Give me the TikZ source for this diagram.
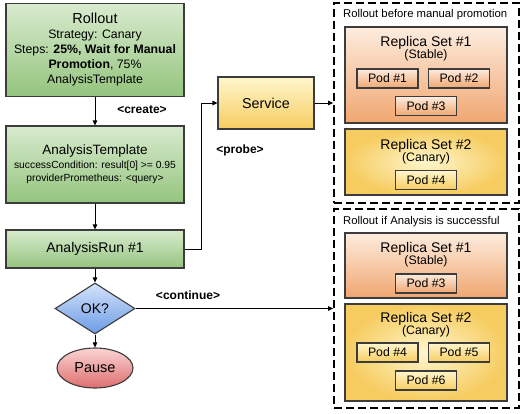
\documentclass[tikz,border=0pt]{standalone}
\usepackage{fontspec}
\setmainfont{Liberation Sans}
\usetikzlibrary{shapes.geometric,arrows.meta}
\definecolor{rodark}{RGB}{60,60,60}
\definecolor{greentop}{RGB}{216,235,206}
\definecolor{greenbot}{RGB}{148,196,126}
\definecolor{yeltop}{RGB}{255,246,205}
\definecolor{yelbot}{RGB}{246,204,96}
\definecolor{orgtop}{RGB}{253,236,222}
\definecolor{orgbot}{RGB}{240,166,112}
\definecolor{bluetop}{RGB}{212,226,250}
\definecolor{bluebot}{RGB}{108,156,230}
\definecolor{redtop}{RGB}{250,212,212}
\definecolor{redbot}{RGB}{222,110,110}
\newcommand{\ttl}{\fontsize{14}{16}\selectfont}
\newcommand{\txt}{\fontsize{12.3}{15}\selectfont}
\tikzset{
  greenbox/.style={draw=rodark,line width=1.1pt,top color=greentop,bottom color=greenbot,
    minimum width=178pt,inner sep=0pt,align=center},
  yelbox/.style={draw=rodark,line width=1.1pt,top color=yeltop,bottom color=yelbot,inner sep=0pt},
  yelset/.style={draw=rodark,line width=1.1pt,shading=radial,inner color=yeltop,outer color=yelbot,
    minimum width=162pt,inner sep=0pt},
  orgbox/.style={draw=rodark,line width=1.1pt,top color=orgtop,bottom color=orgbot,inner sep=0pt},
  podorg/.style={orgbox,minimum width=61pt,minimum height=19pt,font=\txt},
  podyel/.style={yelbox,minimum width=61pt,minimum height=19pt,font=\txt},
  settitle/.style={align=center,inner sep=0pt},
  group/.style={draw=black,line width=1.8pt,dash pattern=on 8pt off 4pt,inner sep=0pt,
    minimum width=185pt},
  grouptitle/.style={anchor=west,inner sep=0pt,font=\fontsize{11.3}{12}\selectfont},
  edgelabel/.style={inner sep=0pt,font=\fontsize{12}{14}\selectfont\bfseries},
  flow/.style={draw=black,line width=0.8pt,-{Triangle[length=5pt,width=4.5pt]}}
}

\begin{document}
\begin{tikzpicture}[x=1pt,y=-1pt]
  \useasboundingbox (0,0) rectangle (530,413);
  % left column
  \node[greenbox,minimum height=93pt,font=\txt] (roll) at (95,50)
    {{\fontsize{14.5}{16}\selectfont Rollout}\\ Strategy: Canary\\
     Steps: \textbf{25\%, Wait for Manual}\\ \textbf{Promotion}, 75\%\\ AnalysisTemplate};
  \node[greenbox,minimum height=77pt,font=\fontsize{10.3}{13.5}\selectfont] (tmpl) at (95,164.5)
    {{\fontsize{13.5}{16}\selectfont AnalysisTemplate}\\ successCondition: result[0] >= 0.95\\
     providerPrometheus: <query>};
  \node[greenbox,minimum height=38pt,font=\fontsize{14}{15}\selectfont] (run) at (95,249) {AnalysisRun \#1};
  \node[diamond,draw=rodark,line width=1.1pt,top color=bluetop,bottom color=bluebot,
    minimum width=80pt,minimum height=51pt,inner sep=0pt,font=\fontsize{14}{15}\selectfont] (ok) at (95,308.5) {OK?};
  \node[ellipse,draw=rodark,line width=1.1pt,top color=redtop,bottom color=redbot,
    minimum width=76pt,minimum height=40pt,inner sep=0pt,font=\fontsize{14.5}{15}\selectfont] (pause) at (95,368) {Pause};
  \node[yelbox,minimum width=96pt,minimum height=52pt,font=\fontsize{14.3}{15}\selectfont] (svc) at (266,103) {Service};

  \node[edgelabel] (lcreate) at (142,110) {<create>};
  \node[edgelabel] (lprobe) at (240,150) {<probe>};
  \node[edgelabel] (lcont) at (188,295) {<continue>};

  % before promotion
  \node[group,minimum height=200pt] (box1) at (426.5,103) {};
  \node[grouptitle] (gt1) at (343,15) {Rollout before manual promotion};
  \node[orgbox,minimum width=162pt,minimum height=96pt] (rs1a) at (426,75) {};
  \node[settitle] (rs1at) at (426,49) {{\ttl Replica Set \#1}\\{\txt (Stable)}};
  \node[podorg] (p1a) at (387.5,78.5) {Pod \#1};
  \node[podorg] (p2a) at (459,78.5) {Pod \#2};
  \node[podorg] (p3a) at (426,106) {Pod \#3};
  \node[yelset,minimum height=66pt] (rs2a) at (426,162) {};
  \node[settitle] (rs2at) at (426,151.5) {{\ttl Replica Set \#2}\\{\txt (Canary)}};
  \node[podyel] (p4a) at (426,180) {Pod \#4};

  % after analysis
  \node[group,minimum height=199pt] (box2) at (426.5,308.5) {};
  \node[grouptitle] (gt2) at (343,222) {Rollout if Analysis is successful};
  \node[orgbox,minimum width=162pt,minimum height=65pt] (rs1b) at (426,265.5) {};
  \node[settitle] (rs1bt) at (426,254.5) {{\ttl Replica Set \#1}\\{\txt (Stable)}};
  \node[podorg] (p3b) at (426,283.5) {Pod \#3};
  \node[yelset,minimum height=97pt] (rs2b) at (426,352.5) {};
  \node[settitle] (rs2bt) at (426,324.5) {{\ttl Replica Set \#2}\\{\txt (Canary)}};
  \node[podyel] (p4b) at (387.5,352.5) {Pod \#4};
  \node[podyel] (p5b) at (459,352.5) {Pod \#5};
  \node[podyel] (p6b) at (426,380.5) {Pod \#6};

  % connectors
  \draw[flow] (roll) -- (tmpl);
  \draw[flow] (tmpl) -- (run);
  \draw[flow] (run) -- (ok);
  \draw[flow] (ok) -- (pause);
  \draw[flow] (run.east) -- ++(17,0) |- (svc.west);
  \draw[flow] (svc.east) -- (svc.east -| box1.west);
  \draw[flow] (ok.east) -- (ok.east -| box2.west);
\end{tikzpicture}
\end{document}
